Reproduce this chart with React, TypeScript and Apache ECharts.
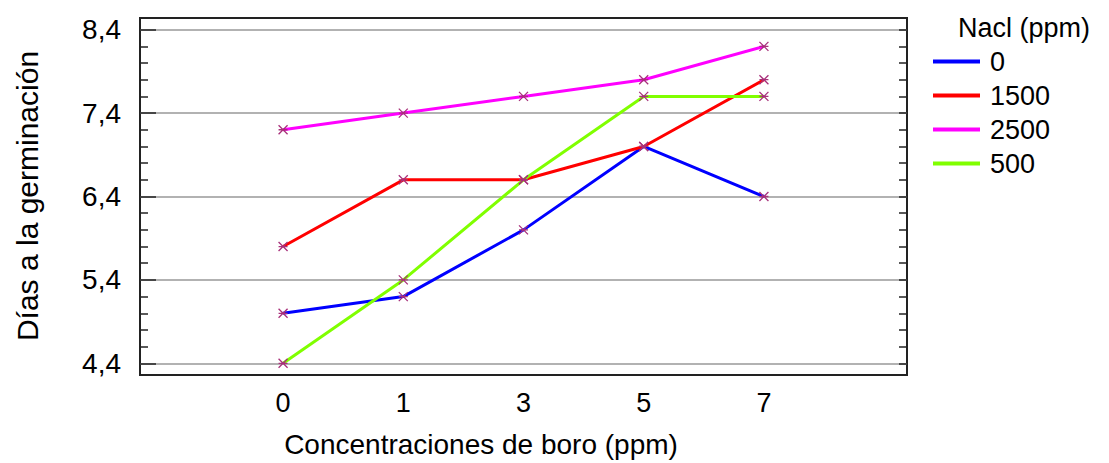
import React, { useEffect, useRef } from "react";
import * as echarts from "echarts";

const categories = ["0", "1", "3", "5", "7"];
const seriesNames = ["0", "1500", "2500", "500"];
const values0 = [5.0, 5.2, 6.0, 7.0, 6.4];
const values1500 = [5.8, 6.6, 6.6, 7.0, 7.8];
const values2500 = [7.2, 7.4, 7.6, 7.8, 8.2];
const values500 = [4.4, 5.4, 6.6, 7.6, 7.6];
const seriesValues = [values0, values1500, values2500, values500];
const seriesColors = ["#0000ff", "#ff0000", "#ff00ff", "#80ff00"];
const yMajorTicks = [4.4, 5.4, 6.4, 7.4, 8.4];
const yMinorTicks = [4.6, 4.8, 5.0, 5.2, 5.6, 5.8, 6.0, 6.2, 6.6, 6.8, 7.0, 7.2, 7.6, 7.8, 8.0, 8.2];
const yAllTicks = [4.4, 4.6, 4.8, 5.0, 5.2, 5.4, 5.6, 5.8, 6.0, 6.2, 6.4, 6.6, 6.8, 7.0, 7.2, 7.4, 7.6, 7.8, 8.0, 8.2, 8.4];

const FONT = "'Liberation Sans', Arial, sans-serif";
const MARK = "path://M0,0L8,8M8,0L0,8M0,4L8,4";

export default function App() {
  const ref = useRef<HTMLDivElement>(null);
  useEffect(() => {
    if (!ref.current) return;
    const chart = echarts.init(ref.current, undefined, { renderer: "svg" });
    const series = seriesNames.map((name, i) => ({
      name,
      type: "line",
      data: seriesValues[i].map((v, j) => [j, v]),
      symbol: MARK,
      symbolSize: 9,
      showSymbol: true,
      lineStyle: { color: seriesColors[i], width: 3 },
      itemStyle: { color: seriesColors[i], borderColor: "#a8307a", borderWidth: 1.3 },
      z: 3,
    }));
    chart.setOption({
      animation: false,
      backgroundColor: "#ffffff",
      grid: {
        left: 140,
        top: 18,
        width: 767,
        height: 357,
        show: true,
        borderColor: "#222",
        borderWidth: 2,
        backgroundColor: "transparent",
      },
      legend: {
        data: seriesNames,
        orient: "vertical",
        left: 928,
        top: 43,
        itemWidth: 47,
        itemHeight: 4,
        icon: "rect",
        itemGap: 7,
        itemStyle: { borderWidth: 0 },
        selectedMode: false,
        textStyle: { fontSize: 27, lineHeight: 27, color: "#000", fontFamily: FONT, padding: [0, 0, 0, 5] },
      },
      xAxis: {
        type: "value",
        min: -1.19,
        max: 5.19,
        axisLine: { show: false, onZero: false },
        axisTick: { show: false },
        splitLine: { show: false },
        axisLabel: {
          customValues: [0, 1, 2, 3, 4],
          formatter: (v: number) => categories[Math.round(v)] ?? "",
          fontSize: 27,
          color: "#000",
          fontFamily: FONT,
          margin: 14,
        },
      },
      yAxis: [
        {
          type: "value",
          position: "left",
          min: 4.26,
          max: 8.54,
          axisLine: { show: false, onZero: false },
          axisTick: {
            show: true,
            inside: true,
            length: 16,
            customValues: yMajorTicks,
            lineStyle: { color: "#222", width: 1.5 },
          },
          splitLine: { show: true, lineStyle: { color: "#999", width: 1.5 } },
          axisLabel: {
            customValues: yMajorTicks,
            formatter: (v: number) => v.toFixed(1).replace(".", ","),
            fontSize: 28,
            color: "#000",
            fontFamily: FONT,
            margin: 19,
          },
        },
        {
          type: "value",
          position: "left",
          min: 4.26,
          max: 8.54,
          axisLine: { show: false, onZero: false },
          axisTick: {
            show: true,
            inside: true,
            length: 8,
            customValues: yMinorTicks,
            lineStyle: { color: "#222", width: 1.5 },
          },
          splitLine: { show: false },
          axisLabel: { show: false },
        },
        {
          type: "value",
          position: "right",
          min: 4.26,
          max: 8.54,
          axisLine: { show: false, onZero: false },
          axisTick: {
            show: true,
            inside: true,
            length: 8,
            customValues: yAllTicks,
            lineStyle: { color: "#222", width: 1.5 },
          },
          splitLine: { show: false },
          axisLabel: { show: false },
        },
      ],
      graphic: [
        {
          type: "text",
          left: 958,
          top: 14,
          style: { text: "Nacl (ppm)", fontSize: 27, fontFamily: FONT, fill: "#000" },
        },
        {
          type: "text",
          x: 481,
          y: 444,
          style: {
            text: "Concentraciones de boro (ppm)",
            fontSize: 28,
            fontFamily: FONT,
            fill: "#000",
            align: "center",
            verticalAlign: "middle",
          },
        },
        {
          type: "text",
          x: 27,
          y: 196,
          rotation: Math.PI / 2,
          style: {
            text: "Días a la germinación",
            fontSize: 30,
            fontFamily: FONT,
            fill: "#000",
            align: "center",
            verticalAlign: "middle",
          },
        },
      ],
      series,
    });
    return () => chart.dispose();
  }, []);
  return (
    <div
      ref={ref}
      style={{ position: "fixed", left: 0, top: 0, width: 1109, height: 463, background: "#fff" }}
    />
  );
}
